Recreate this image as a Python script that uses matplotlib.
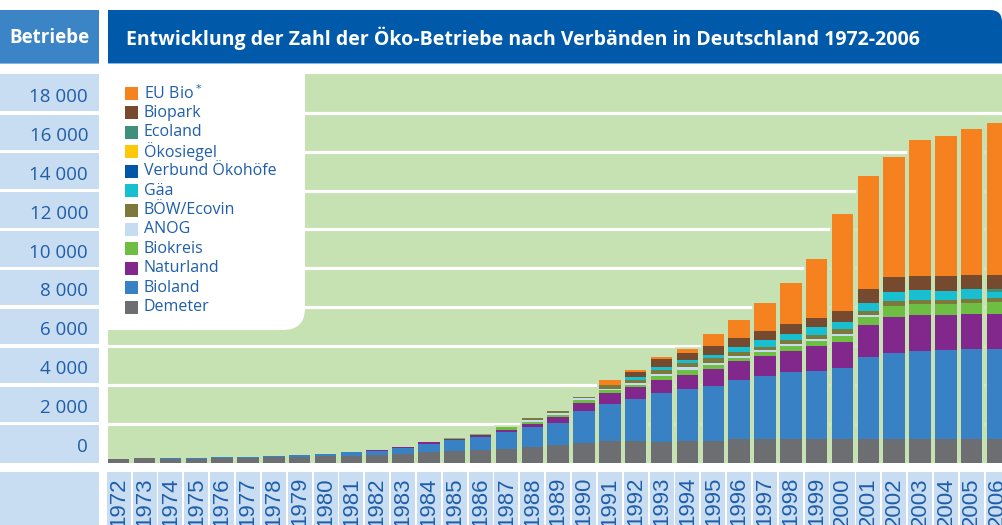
import numpy as np
import matplotlib
matplotlib.use('Agg')
import matplotlib.pyplot as plt
from matplotlib.patches import Rectangle, PathPatch
from matplotlib.path import Path

plt.rcParams['font.family'] = ['Open Sans', 'DejaVu Sans']

# Jahre und Zahl der Betriebe je Verband
years = [str(y) for y in range(1972, 2007)]

demeter = [155, 206, 172, 189, 206, 206, 275, 292, 309, 340,
           378, 447, 533, 567, 653, 687, 790, 876, 997, 1117,
           1100, 1031, 1082, 1117, 1186, 1186, 1186, 1186, 1186, 1186,
           1186, 1186, 1186, 1186, 1186]
bioland = [0, 0, 69, 52, 86, 86, 69, 103, 120, 200,
           223, 292, 395, 567, 653, 876, 1048, 1151, 1632, 1907,
           2182, 2543, 2715, 2801, 3076, 3282, 3454, 3522, 3660, 4227,
           4467, 4553, 4605, 4656, 4656]
naturland = [0, 0, 0, 0, 0, 0, 0, 0, 0, 0,
             52, 40, 120, 100, 90, 120, 155, 292, 430, 550,
             601, 687, 722, 911, 962, 1031, 1117, 1306, 1357, 1667,
             1821, 1873, 1821, 1821, 1821]
biokreis = [0, 0, 0, 0, 0, 0, 0, 0, 0, 0,
            0, 0, 0, 52, 86, 120, 103, 137, 160, 137,
            120, 172, 223, 189, 172, 206, 258, 258, 326, 430,
            584, 533, 533, 567, 601]
anog = [0, 0, 0, 0, 0, 0, 0, 0, 0, 0,
        0, 0, 0, 0, 0, 0, 103, 86, 86, 86,
        86, 120, 155, 103, 86, 86, 86, 103, 70, 86,
        0, 0, 0, 0, 0]
boew = [0, 0, 0, 0, 0, 0, 0, 0, 0, 0,
        0, 0, 0, 0, 0, 0, 86, 103, 69, 206,
        172, 223, 223, 241, 223, 172, 206, 189, 260, 206,
        258, 223, 223, 206, 223]
gaea = [0, 0, 0, 0, 0, 0, 0, 0, 0, 0,
        0, 0, 0, 0, 0, 0, 0, 0, 0, 0,
        137, 137, 172, 172, 258, 344, 326, 395, 378, 412,
        481, 515, 447, 498, 309]
verbund = [0] * 35
oekosiegel = [0] * 35
ecoland = [0, 0, 0, 0, 0, 0, 0, 0, 0, 0,
           0, 0, 0, 0, 0, 0, 0, 0, 0, 0,
           0, 0, 0, 0, 0, 0, 0, 0, 0, 0,
           0, 0, 0, 0, 137]
biopark = [0, 0, 0, 0, 0, 0, 0, 0, 0, 0,
           0, 0, 0, 0, 0, 0, 0, 0, 0, 0,
           241, 412, 344, 481, 447, 481, 515, 481, 584, 739,
           773, 722, 790, 722, 722]
eu_bio = [0, 0, 0, 0, 0, 0, 0, 0, 0, 0,
          0, 0, 0, 0, 0, 0, 0, 0, 0, 258,
          103, 103, 223, 619, 911, 1409, 2079, 3024, 4983, 5808,
          6151, 6993, 7199, 7526, 7818]

# von unten nach oben gestapelt
series = [
    ('Demeter', demeter, '#6d6e71'),
    ('Bioland', bioland, '#3781c4'),
    ('Naturland', naturland, '#82288c'),
    ('Biokreis', biokreis, '#6fbe44'),
    ('ANOG', anog, '#c6dcf0'),
    ('BÖW/Ecovin', boew, '#7c7a3a'),
    ('Gäa', gaea, '#17bfd0'),
    ('Verbund Ökohöfe', verbund, '#0057a8'),
    ('Ökosiegel', oekosiegel, '#fcc80a'),
    ('Ecoland', ecoland, '#3e907c'),
    ('Biopark', biopark, '#764a2e'),
    ('EU Bio$^*$', eu_bio, '#f5821f'),
]

W, H = 1002, 525
green = '#c6e1b2'
light = '#c8ddf1'
txt = '#1f5ea9'


def px(x0, y0, x1, y1):
    return [x0 / W, 1 - y1 / H, (x1 - x0) / W, (y1 - y0) / H]


fig = plt.figure(figsize=(W / 100, H / 100), dpi=100)

# Hauptdiagramm
ax = fig.add_axes(px(108, 74, 1002, 462.5))
ax.set_facecolor(green)
x = np.arange(len(years))
bw = 0.83
totals = np.sum([s[1] for s in series], axis=0)
# gruener Rand um die Saeulen verdeckt die Gitterlinien in den Luecken
ax.bar(x, totals, width=bw, color=green, edgecolor=green, linewidth=3.3, zorder=2)
bottom = np.zeros(len(years))
for name, vals, col in series:
    ax.bar(x, vals, bottom=bottom, width=bw, color=col, linewidth=0, zorder=3)
    bottom += np.array(vals)
for v in range(2000, 20000, 2000):
    ax.axhline(v, color='white', lw=2.3, zorder=1)
ax.set_xlim(-0.415, 34.17)
ax.set_ylim(0, 20000)
ax.set_xticks([])
ax.set_yticks([])
for s in ax.spines.values():
    s.set_visible(False)

# y-Beschriftung in Kaesten
ax_y = fig.add_axes(px(0, 74, 99, 462.5), sharey=ax)
ax_y.set_xlim(0, 1)
gap = 90
for v in range(0, 20000, 2000):
    lo = v + gap if v > 0 else v
    hi = v + 2000 - gap if v < 18000 else v + 2000
    ax_y.axhspan(lo, hi, color=light, lw=0)
    ax_y.text(0.89, v + 550, f'{v:,}'.replace(',', ' '), ha='right',
              va='baseline', fontsize=13.5, color=txt)
ax_y.axis('off')

# Jahreszahlen
ax_x = fig.add_axes(px(108, 472, 1002, 525), sharex=ax)
ax_x.set_ylim(0, 1)
ax_x.bar(x, 1, width=0.93, color=light, lw=0, clip_on=False)
for i, yr in enumerate(years):
    ax_x.text(i, 0.905, yr, rotation=90, ha='center', va='top', fontsize=16,
              family='Liberation Sans', color=txt)
ax_x.axis('off')

# Kopfzeile, Legende usw. in Pixelkoordinaten
ov = fig.add_axes([0, 0, 1, 1], zorder=10)
ov.set_xlim(0, W)
ov.set_ylim(H, 0)
ov.axis('off')

ov.add_patch(Rectangle((0, 10), 99, 54, color='#3b84c6', lw=0))
r = 12
head = Path([(108, 64), (108, 10), (1002 - r, 10), (1002, 10), (1002, 10 + r), (1002, 64), (108, 64)],
            [Path.MOVETO, Path.LINETO, Path.LINETO, Path.CURVE3, Path.CURVE3, Path.LINETO, Path.CLOSEPOLY])
ov.add_patch(PathPatch(head, color='#0059a9', lw=0))
ov.add_patch(Rectangle((0, 62.5), 99, 1.5, color='#86b6e2', lw=0))
ov.add_patch(Rectangle((108, 62.5), 894, 1.5, color='#86b6e2', lw=0))
ov.text(49.5, 38, 'Betriebe', ha='center', va='center', color='white',
        fontsize=13.5, fontweight='bold')
ov.text(126, 38, 'Entwicklung der Zahl der Öko-Betriebe nach Verbänden in Deutschland 1972-2006',
        ha='left', va='center', color='white', fontsize=14, fontweight='bold')

ov.add_patch(Rectangle((0, 472), 99, 60, color=light, lw=0))

rl = 22
leg = Path([(108, 74), (305, 74), (305, 330 - rl), (305, 330), (305 - rl, 330), (108, 330), (108, 74)],
           [Path.MOVETO, Path.LINETO, Path.LINETO, Path.CURVE3, Path.CURVE3, Path.LINETO, Path.CLOSEPOLY])
ov.add_patch(PathPatch(leg, color='white', lw=0))
for i, (name, vals, col) in enumerate(series[::-1]):
    yy = 93.3 + 19.45 * i
    ov.add_patch(Rectangle((125, yy - 6.5), 13, 13, color=col, lw=0))
    ov.text(144, yy, name, ha='left', va='center', fontsize=11.5, color=txt)

fig.savefig('out.png', dpi=100)
